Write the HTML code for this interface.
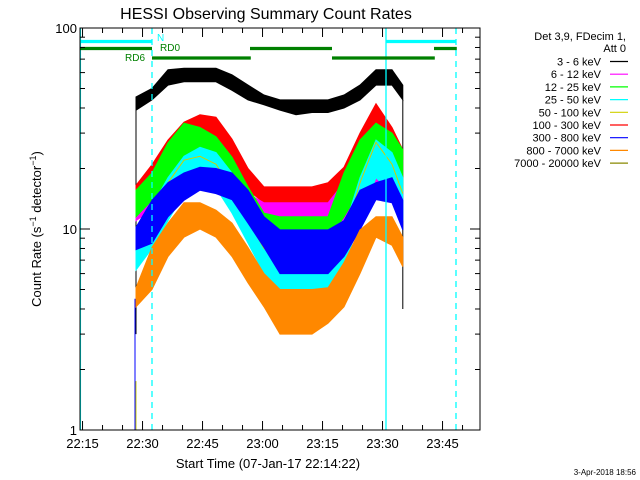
<!DOCTYPE html>
<html><head><meta charset="utf-8"><style>
html,body{margin:0;padding:0;background:#fff;width:640px;height:480px;overflow:hidden}
svg text{font-family:"Liberation Sans",sans-serif}
</style></head><body>
<svg id="chart" width="640" height="480" viewBox="0 0 640 480" xmlns="http://www.w3.org/2000/svg">
<text x="266" y="19" font-size="16" text-anchor="middle">HESSI Observing Summary Count Rates</text>
<g id="plot"></g>
<g id="axes"></g>
<text transform="translate(41,229) rotate(-90)" font-size="13" text-anchor="middle">Count Rate (s<tspan baseline-shift="super" font-size="9">−1</tspan> detector<tspan baseline-shift="super" font-size="9">−1</tspan>)</text>
<text x="268" y="468" font-size="13" text-anchor="middle">Start Time (07-Jan-17 22:14:22)</text>
<text x="636" y="475" font-size="8" text-anchor="end">3-Apr-2018 18:56</text>
<g id="legend"></g>
</svg>
<script>
// minutes since 22:14:22
const times = [14,18,22,26,30,34,38,42,46,50,54,58,62,66,70,74,78,80.7];
const blackHi = [45.4,50,62,63,63,63,58.5,52,46.4,43.9,43.9,43.9,43.9,46.4,52,62,62,52];
const blackLo = [39,43.9,52,54,54,54,49,43.9,41.5,39,37,38,38,40,43.9,52,52,43.9];
const redHi = [16.5,20.9,27.7,34,37,36,28,20,16.2,16.2,16.2,16.2,17,20.3,30,42,32,24.8];
const redLo = [13.9,14.7,19.7,22,24.8,23.4,18.6,15.6,13.5,13.5,13.5,13.5,13.5,14,19,24,21,15];
const magentaHi = [15,18,24,29,29,26,20,15,13.5,13.5,13.5,13.5,13.5,17,24,29,27,22];
const magentaLo = [11,12.5,15.5,18,18,17,13,10.5,9.9,9.9,9.9,9.9,9.9,11,14,17,16,14];
const greenHi = [15.6,19,26.8,33.6,32,28.8,22.8,16.2,12,11.5,11.5,11.5,11.5,19,27.7,33.6,30,24.8];
const greenLo = [11.5,13.9,16.9,20.3,20.3,19,13.9,10.7,9.1,8.8,8.8,8.8,8.8,11.5,15.6,19,18,15.6];
const cyanHi = [10.2,13,18,23,25.5,24,19,13,9,7.6,7.6,7.6,7.6,10,18,27.7,24,18];
const cyanLo = [6.25,8,11,15,18,16,12,8.5,6,5,5,5,5,6.5,11,18,15,11];
const yellowVal = [9,11,17,22,23,21,16,11,8,7,7,7,7,9,17,27,21,15];
const blueHi = [10.2,13.9,17,19,20.3,20,19,15.6,11.5,9.9,9.9,9.9,9.9,11,15.6,17,18,13.9];
const blueLo = [7.9,8.5,11.5,13.9,15.6,15,14,10.7,8.1,6,6,6,6,7.3,9.9,14,13.5,9.9];
const orangeHi = [5.1,8.1,10.7,13.5,13.5,12.4,10.7,8.1,6,5,5,5,5.1,6.8,9.9,11.5,11.5,9.1];
const orangeLo = [4.1,5,7.3,9.1,10,9.1,7.3,5.4,4.1,3,3,3,3.4,4.1,6,9.1,8.3,6.5];
const legendLabels = ["3 - 6 keV","6 - 12 keV","12 - 25 keV","25 - 50 keV","50 - 100 keV","100 - 300 keV","300 - 800 keV","800 - 7000 keV","7000 - 20000 keV"];
const legendColors = ["#000000","#ff00ff","#00ff00","#00ffff","#d0d000","#ff0000","#0000ff","#ff8800","#888800"];
const xTickLabels = ["22:15","22:30","22:45","23:00","23:15","23:30","23:45"];
const xTickTimes = [0.633,15.633,30.633,45.633,60.633,75.633,90.633];
const yTickValues = [1,10,100];
const yTickLabels = ["1","10","100"];

const NS="http://www.w3.org/2000/svg";
const X0=80,X1=480,Y0=28,Y1=430;
function xs(t){return X0+4*t;}
function ys(v){return Y1-201*Math.log10(v);}
function mk(tag,attrs,parent){const e=document.createElementNS(NS,tag);for(const k in attrs)e.setAttribute(k,attrs[k]);parent.appendChild(e);return e;}
const plot=document.getElementById('plot'),axes=document.getElementById('axes'),legend=document.getElementById('legend');

function band(hi,lo,color,name){
  let d='';
  times.forEach((t,i)=>{d+=(i?'L':'M')+xs(t).toFixed(1)+','+ys(hi[i]).toFixed(1);});
  for(let i=times.length-1;i>=0;i--)d+='L'+xs(times[i]).toFixed(1)+','+ys(lo[i]).toFixed(1);
  const p=mk('path',{d:d+'Z',fill:color,stroke:color,'stroke-width':1},plot);
  
  
}
// black edges
const be=mk('path',{d:`M${xs(times[0])},${ys(blackHi[0])}L${xs(times[0])},${ys(3)}M${xs(times[17])},${ys(blackLo[17])}L${xs(times[17])},${ys(4)}`,stroke:'#000',fill:'none'},plot);


band(blackHi,blackLo,'#000000','series-3-6-kev');
band(redHi,redLo,'#ff0000','series-100-300-kev');
band(magentaHi,magentaLo,'#ff00ff','series-6-12-kev');
band(greenHi,greenLo,'#00ff00','series-12-25-kev');
band(cyanHi,cyanLo,'#00ffff','series-25-50-kev');
{
  let d='';times.forEach((t,i)=>{d+=(i?'L':'M')+xs(t)+','+ys(yellowVal[i]);});
  const p=mk('path',{d,fill:'none',stroke:'#d0d000','stroke-width':1},plot);
  
  
}
band(blueHi,blueLo,'#0000ff','series-300-800-kev');
band(orangeHi,orangeLo,'#ff8800','series-800-7000-kev');
// lead-in spikes
const bl=mk('line',{x1:xs(13.75),x2:xs(13.75),y1:ys(1),y2:ys(4.5),stroke:'#0000ff'},plot);


const yl=mk('line',{x1:xs(14),x2:xs(14),y1:ys(1),y2:ys(1.75),stroke:'#d0d000'},plot);



// vertical markers
[[0.1,false],[18,true],[76.5,false],[94,true]].forEach(([t,dash])=>{
  const l=mk('line',{x1:xs(t),x2:xs(t),y1:Y0,y2:Y1,stroke:'#00ffff','stroke-width':1.3},plot);
  if(dash)l.setAttribute('stroke-dasharray','6,5');
  
  
});
// status bars
[[0,18,41.5,'#00ffff'],[76.5,94,41.5,'#00ffff'],[0,18,48.5,'#008000'],[42.5,63,48.5,'#008000'],[88.5,94.2,48.5,'#008000'],[18,42.7,58,'#008000'],[63,88.7,58,'#008000']].forEach(([a,b,y,c])=>{
  const l=mk('line',{x1:xs(a),x2:xs(b),y1:y,y2:y,stroke:c,'stroke-width':3.2},plot);
  
  
});
[['N',157,41,'#00ffff'],['RD0',160,51,'#008000'],['RD6',125,61,'#008000']].forEach(([s,x,y,c])=>{
  const t=mk('text',{x,y,fill:c,'font-size':10},plot);t.textContent=s;
  
  
});

// frame
const fr=mk('rect',{x:X0,y:Y0,width:X1-X0,height:Y1-Y0,fill:'none',stroke:'#000','stroke-width':1},axes);


// x ticks
for(let m=0.633;m<=100;m+=5){
  const major=Math.abs(((m-0.633)/15)-Math.round((m-0.633)/15))<0.01;
  const len=major?9:5;
  mk('line',{x1:xs(m),x2:xs(m),y1:Y1,y2:Y1-len,stroke:'#000'},axes);
  mk('line',{x1:xs(m),x2:xs(m),y1:Y0,y2:Y0+len,stroke:'#000'},axes);
}
xTickLabels.forEach((s,i)=>{
  const t=mk('text',{x:xs(xTickTimes[i]),y:448,'font-size':13,'text-anchor':'middle'},axes);t.textContent=s;
  
  
});
// y ticks
for(let dec=1;dec<100;dec*=10){for(let k=1;k<=10;k++){const v=dec*k;const len=(k===1||k===10)?10:5;
  mk('line',{x1:X0,x2:X0+len,y1:ys(v),y2:ys(v),stroke:'#000'},axes);
  mk('line',{x1:X1,x2:X1-len,y1:ys(v),y2:ys(v),stroke:'#000'},axes);}}
yTickValues.forEach((v,i)=>{
  const t=mk('text',{x:77,y:ys(v)+5,'font-size':13,'text-anchor':'end'},axes);t.textContent=yTickLabels[i];
  
  
});
// legend
[['Det 3,9, FDecim 1,',40],['Att 0',52]].forEach(([s,y])=>{
  const t=mk('text',{x:626,y,'font-size':11,'text-anchor':'end'},legend);t.textContent=s;
  
  
});
legendLabels.forEach((s,i)=>{
  const y=61.5+i*12.7;
  const t=mk('text',{x:601,y:y+4,'font-size':11,'text-anchor':'end'},legend);t.textContent=s;
  
  
  const l=mk('line',{x1:610,x2:628,y1:y,y2:y,stroke:legendColors[i],'stroke-width':1.2},legend);
  
  
});
</script>
</body></html>
